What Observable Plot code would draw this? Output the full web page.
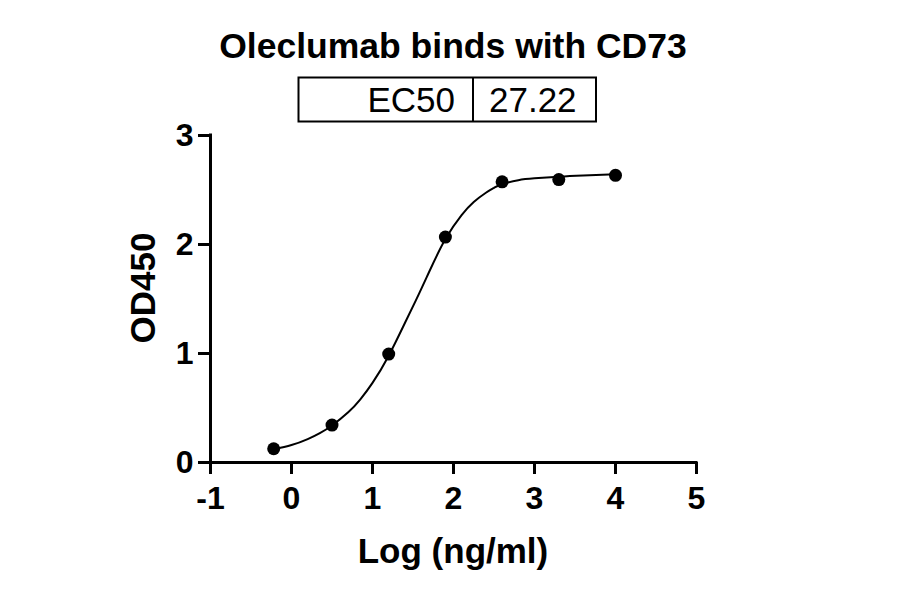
<!DOCTYPE html>
<html>
<head>
<meta charset="utf-8">
<script src="https://cdn.jsdelivr.net/npm/d3@7"></script>
<script src="https://cdn.jsdelivr.net/npm/@observablehq/plot@0.6"></script>
<style>
  html, body { margin: 0; padding: 0; background: #fff; }
  #chart svg { display: block; }
</style>
</head>
<body>
<div id="chart"></div>
<script>
// Measured points: log10 concentration (ng/ml) vs OD450
const logConc = [-0.22, 0.5, 1.2, 1.9, 2.6, 3.3, 4.0];
const od450   = [0.126, 0.343, 0.995, 2.068, 2.575, 2.596, 2.635];

// Fitted curve
const curveX = [-0.22, 0.0, 0.2, 0.35, 0.5, 0.7, 0.85, 1.0, 1.2, 1.4, 1.55, 1.7, 1.9, 2.1, 2.25, 2.4, 2.5, 2.6, 2.8, 3.0, 3.3, 3.6, 4.0];
const curveY = [0.12, 0.16, 0.215, 0.27, 0.34, 0.46, 0.58, 0.73, 0.98, 1.28, 1.51, 1.75, 2.05, 2.27, 2.39, 2.475, 2.52, 2.553, 2.59, 2.607, 2.622, 2.633, 2.645];

const xTicks = [-1, 0, 1, 2, 3, 4, 5];
const yTicks = [0, 1, 2, 3];

const titleText = "Oleclumab binds with CD73";
const xLabel = "Log (ng/ml)";
const yLabel = "OD450";
const ec50Label = "EC50";
const ec50Value = "27.22";

const points = logConc.map((x, i) => ({x, y: od450[i]}));
const curve = curveX.map((x, i) => ({x, y: curveY[i]}));

const font = "'Liberation Sans', Arial, Helvetica, sans-serif";

const chart = Plot.plot({
  width: 900,
  height: 594,
  marginTop: 135,
  marginBottom: 132,
  marginLeft: 210,
  marginRight: 204,
  style: {fontFamily: font, color: "#000", background: "#fff", overflow: "visible"},
  x: {domain: [-1, 5], axis: null},
  y: {domain: [0, 3], axis: null},
  marks: [
    Plot.axisX({ticks: xTicks, tickFormat: d => String(d), tickSize: 12, tickPadding: 12,
      fontSize: 32, fontWeight: "bold", strokeWidth: 3, stroke: "#000", fill: "#000", label: null}),
    Plot.axisY({ticks: yTicks, tickFormat: d => String(d), tickSize: 12, tickPadding: 5,
      fontSize: 32, fontWeight: "bold", strokeWidth: 3, stroke: "#000", fill: "#000", label: null}),
    Plot.ruleY([0], {stroke: "#000", strokeWidth: 3, strokeLinecap: "square"}),
    Plot.ruleX([-1], {stroke: "#000", strokeWidth: 3, strokeLinecap: "square"}),
    Plot.line(curve, {x: "x", y: "y", curve: "natural", stroke: "#000", strokeWidth: 2}),
    Plot.dot(points, {x: "x", y: "y", r: 6.5, fill: "#000", stroke: "none"})
  ]
});

document.getElementById("chart").appendChild(chart);

const svg = d3.select(chart);

// Title
svg.append("text")
  .attr("x", 453).attr("y", 58)
  .attr("text-anchor", "middle")
  .attr("font-family", font).attr("font-weight", "bold").attr("font-size", 35.5)
  .attr("fill", "#000")
  .text(titleText);

// EC50 table box
const box = svg.append("g");
box.append("rect").attr("x", 298.5).attr("y", 77.5).attr("width", 297.5).attr("height", 44)
  .attr("fill", "none").attr("stroke", "#000").attr("stroke-width", 2);
box.append("line").attr("x1", 473).attr("x2", 473).attr("y1", 77.5).attr("y2", 121.5)
  .attr("stroke", "#000").attr("stroke-width", 2);
box.append("text").attr("x", 455).attr("y", 112).attr("text-anchor", "end")
  .attr("font-family", font).attr("font-size", 35).attr("fill", "#000").text(ec50Label);
box.append("text").attr("x", 489).attr("y", 112).attr("text-anchor", "start")
  .attr("font-family", font).attr("font-size", 35).attr("fill", "#000").text(ec50Value);

// Axis titles
svg.append("text")
  .attr("x", 453).attr("y", 563)
  .attr("text-anchor", "middle")
  .attr("font-family", font).attr("font-weight", "bold").attr("font-size", 35)
  .attr("fill", "#000")
  .text(xLabel);

svg.append("text")
  .attr("transform", "translate(155,288) rotate(-90)")
  .attr("text-anchor", "middle")
  .attr("font-family", font).attr("font-weight", "bold").attr("font-size", 35)
  .attr("fill", "#000")
  .text(yLabel);
</script>
</body>
</html>
